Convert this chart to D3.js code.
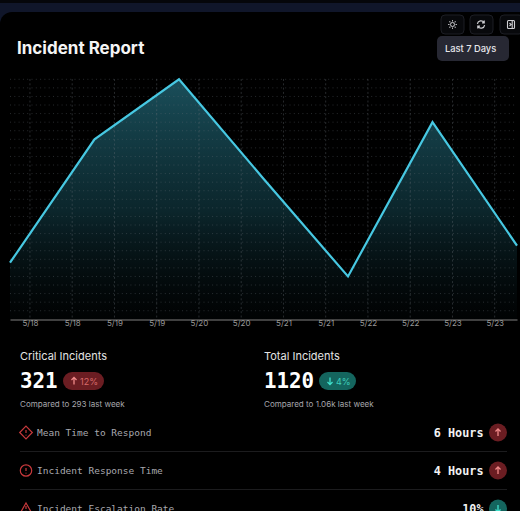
<!DOCTYPE html>
<html><head><meta charset="utf-8">
<script src="https://cdn.jsdelivr.net/npm/d3@7"></script>
<style>
html,body{margin:0;padding:0;background:#000;width:520px;height:511px;overflow:hidden}
svg{display:block;position:absolute;left:0;top:0}
text{font-family:Inter,"Noto Sans",sans-serif}
.mono{font-family:"DejaVu Sans Mono",monospace}
</style></head><body>
<svg id="c" width="520" height="511"></svg>
<script>
const times=["2024-05-17T18:20Z","2024-05-18T18:20Z","2024-05-19T18:20Z","2024-05-20T18:20Z","2024-05-21T18:20Z","2024-05-22T18:20Z","2024-05-23T18:20Z"];
const values=[33,105,140,82,25,115,43];
const yTicks=[5,10,15,20,25,30,35,40,45,50,55,60,65,70,75,80,85,90,95,100,105,110,115,120,125,130,135,140];
const summaryTitles=["Critical Incidents","Total Incidents"];
const summaryValues=["321","1120"];
const summaryDeltas=["12%","4%"];
const summaryDirs=["up","down"];
const summaryNotes=["Compared to 293 last week","Compared to 1.06k last week"];
const rowLabels=["Mean Time to Respond","Incident Response Time","Incident Escalation Rate"];
const rowValues=["6 Hours","4 Hours","10%"];
const rowDirs=["up","up","down"];
const rowIcons=["diamond","circle","triangle"];

const svg=d3.select("#c");
const defs=svg.append("defs");
const g=defs.append("linearGradient").attr("id","fill").attr("x1",0).attr("x2",0).attr("y1",0).attr("y2",1);
g.append("stop").attr("offset",0).attr("stop-color","#2a7f92").attr("stop-opacity",.62);
g.append("stop").attr("offset",.55).attr("stop-color","#1b5a68").attr("stop-opacity",.42);
g.append("stop").attr("offset",1).attr("stop-color","#0b2228").attr("stop-opacity",.08);

// frame
svg.append("rect").attr("width",520).attr("height",511).attr("fill","#10162a");
svg.append("rect").attr("width",520).attr("height",3).attr("fill","#05060a");
svg.append("rect").attr("x",0).attr("y",12).attr("width",540).attr("height",520).attr("rx",12).attr("fill","#000");

const x=d3.scaleUtc().domain([new Date(times[0]),new Date(times[6])]).range([10,517]);
const y=d3.scaleLinear().domain([0,140]).range([319.3,79.3]);
const tickVals=d3.utcHour.every(12).range(new Date(times[0]),new Date(times[6]));
const fmt=d3.utcFormat("%-m/%-d");

const pts=times.map((t,i)=>[new Date(t),values[i]]);
svg.append("path").datum(pts).attr("fill","url(#fill)")
 .attr("d",d3.area().x(d=>x(d[0])).y0(y(0)).y1(d=>y(d[1])));

// grid
svg.append("g").selectAll("line").data(yTicks).join("line")
 .attr("x1",10).attr("x2",517).attr("y1",d=>y(d)).attr("y2",d=>y(d))
 .attr("stroke","#6a7078").attr("stroke-width",.9).attr("stroke-dasharray","1 3.3").attr("opacity",.42);
svg.append("g").selectAll("line").data(tickVals).join("line")
 .attr("x1",d=>x(d)).attr("x2",d=>x(d)).attr("y1",79).attr("y2",319)
 .attr("stroke","#6a7078").attr("stroke-width",.9).attr("stroke-dasharray","2 2.3").attr("opacity",.42);

svg.append("path").datum(pts).attr("fill","none").attr("stroke","#47c8e2").attr("stroke-width",2.2)
 .attr("d",d3.line().x(d=>x(d[0])).y(d=>y(d[1])));

const ax=svg.append("g").attr("transform","translate(0,319.5)")
 .call(d3.axisBottom(x).tickValues(tickVals).tickFormat(fmt).tickSize(0).tickPadding(1));
ax.select(".domain").attr("stroke","#808080").attr("stroke-width",1);
ax.selectAll("text").attr("fill","#999").attr("font-size",8).style("font-family","Inter");

// title + controls
svg.append("text").attr("x",17).attr("y",54).attr("fill","#f5f5f5").attr("font-size",17).attr("font-weight",700).text("Incident Report");
[[441,23],[470,23],[500,23]].forEach(p=>{
 svg.append("rect").attr("x",p[0]).attr("y",15).attr("width",p[1]).attr("height",19).attr("rx",4).attr("fill","#08090c").attr("stroke","#1c1e24");
});
const sun=svg.append("g").attr("transform","translate(452.5,24.5)").attr("stroke","#c8c8cc").attr("fill","none");
sun.append("circle").attr("r",2);
d3.range(8).forEach(i=>sun.append("line").attr("x1",3).attr("x2",4.4).attr("transform",`rotate(${i*45})`));
const ref=svg.append("g").attr("transform","translate(481,24.5)").attr("stroke","#d0d0d4").attr("fill","none").attr("stroke-width",1.2);
ref.append("path").attr("d","M-3.6,-0.6A3.6,3.6 0 0 1 3,-2M3.6,0.6A3.6,3.6 0 0 1 -3,2M3.2,-4V-1.6H1M-3.2,4V1.6H-1");
const pan=svg.append("g").attr("transform","translate(511,24.5)").attr("stroke","#d0d0d4").attr("fill","none").attr("stroke-width",1.1);
pan.append("rect").attr("x",-3.5).attr("y",-4).attr("width",7).attr("height",8).attr("rx",1);
pan.append("path").attr("d","M1.2,-4V4M-1.5,-1.5L0,0L-1.5,1.5");
svg.append("rect").attr("x",437).attr("y",36).attr("width",72).attr("height",25).attr("rx",5).attr("fill","#272833");
svg.append("text").attr("x",445).attr("y",51.5).attr("fill","#e6e6ea").attr("font-size",9.3).attr("font-weight",500).text("Last 7 Days");

function arrow(sel,cx,cy,dir,color,h){
 const s=dir==="up"?-1:1;
 sel.append("path").attr("d",`M${cx},${cy-s*h}V${cy+s*h}M${cx-h*.7},${cy+s*h*.3}L${cx},${cy+s*h}L${cx+h*.7},${cy+s*h*.3}`)
 .attr("fill","none").attr("stroke",color).attr("stroke-width",1.3);
}
// summaries
const sx=[20,264], bx=[63,319], bw=[41,37];
summaryTitles.forEach((t,i)=>{
 svg.append("text").attr("x",sx[i]).attr("y",360).attr("fill","#e4e4e4").attr("font-size",11).text(t);
 svg.append("text").attr("class","mono").attr("x",sx[i]).attr("y",388).attr("fill","#fff").attr("font-size",20.8).attr("font-weight",700).text(summaryValues[i]);
 const up=summaryDirs[i]==="up";
 svg.append("rect").attr("x",bx[i]).attr("y",372).attr("width",bw[i]).attr("height",18).attr("rx",9).attr("fill",up?"#6b1d22":"#14655e");
 arrow(svg,bx[i]+11,381,summaryDirs[i],up?"#f08a8a":"#3fe0cc",3.6);
 svg.append("text").attr("x",bx[i]+17).attr("y",384.5).attr("fill",up?"#d86a6a":"#3fd0bd").attr("font-size",9).text(summaryDeltas[i]);
 svg.append("text").attr("x",sx[i]).attr("y",406.5).attr("fill","#a6a6ac").attr("font-size",8.05).text(summaryNotes[i]);
});
// rows
const ry=[432.5,470.5,508.5];
rowLabels.forEach((t,i)=>{
 const cy=ry[i];
 const ic=svg.append("g").attr("transform",`translate(26,${cy})`).attr("fill","none").attr("stroke","#c8393c").attr("stroke-width",1.2);
 if(rowIcons[i]==="diamond") ic.append("path").attr("d","M0,-6.3L6.3,0L0,6.3L-6.3,0Z");
 if(rowIcons[i]==="circle") ic.append("circle").attr("r",5.7);
 if(rowIcons[i]==="triangle") ic.append("path").attr("d","M0,-5.5L6,5L-6,5Z");
 ic.append("path").attr("d","M0,-2.6V0.6M0,2.2V3");
 svg.append("text").attr("class","mono").attr("x",37).attr("y",cy+3.5).attr("fill","#a8a8ae").attr("font-size",9.5).text(t);
 svg.append("text").attr("class","mono").attr("x",483.5).attr("y",cy+4).attr("text-anchor","end").attr("fill","#f2f2f2").attr("font-size",11.8).attr("font-weight",700).text(rowValues[i]);
 const up=rowDirs[i]==="up";
 svg.append("circle").attr("cx",498).attr("cy",cy).attr("r",9).attr("fill",up?"#6b1d22":"#14655e");
 arrow(svg,498,cy,rowDirs[i],up?"#f08a8a":"#3fe0cc",3.6);
 if(i<2) svg.append("line").attr("x1",20).attr("x2",507).attr("y1",cy+19).attr("y2",cy+19).attr("stroke","#1c1c1e");
});
</script></body></html>
